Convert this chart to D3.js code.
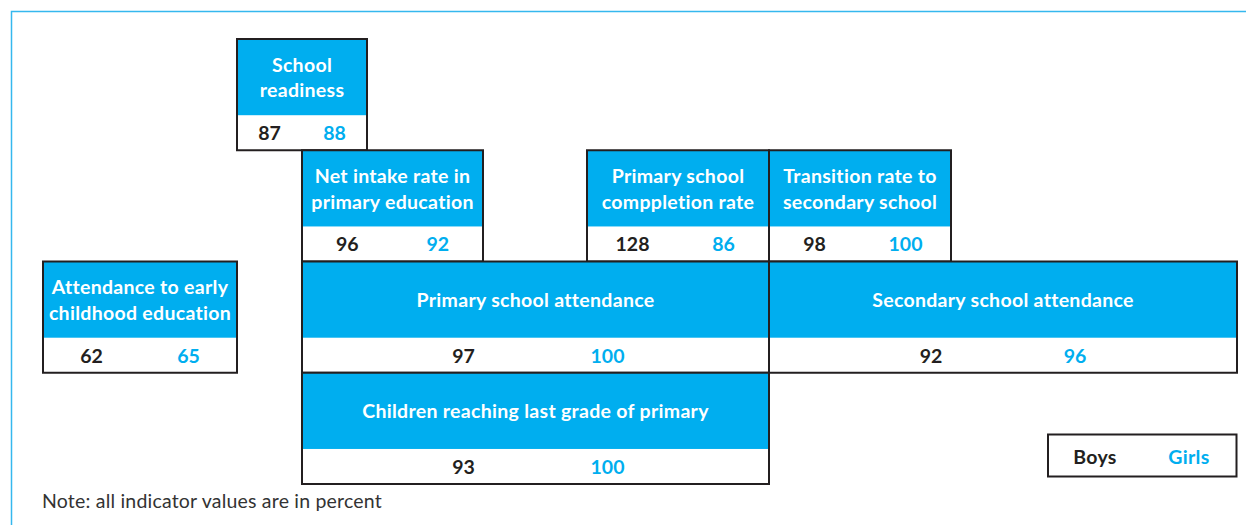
<!DOCTYPE html>
<html>
<head>
<meta charset="utf-8">
<script src="https://cdn.jsdelivr.net/npm/d3@7"></script>
<style>
  html, body { margin: 0; padding: 0; background: #ffffff; }
  svg { display: block; }
  text { font-family: Lato, "Open Sans", sans-serif; }
</style>
</head>
<body>
<svg id="chart" width="1246" height="525"></svg>
<script>
// ---- Data ----
const indicators = [
  "School readiness",
  "Net intake rate in primary education",
  "Primary school comppletion rate",
  "Transition rate to secondary school",
  "Attendance to early childhood education",
  "Primary school attendance",
  "Secondary school attendance",
  "Children reaching last grade of primary"
];
const labelLines = [
  ["School", "readiness"],
  ["Net intake rate in", "primary education"],
  ["Primary school", "comppletion rate"],
  ["Transition rate to", "secondary school"],
  ["Attendance to early", "childhood education"],
  ["Primary school attendance"],
  ["Secondary school attendance"],
  ["Children reaching last grade of primary"]
];
const boys  = [87, 96, 128, 98, 62, 97, 92, 93];
const girls = [88, 92, 86, 100, 65, 100, 96, 100];
const legendLabels = ["Boys", "Girls"];
const noteText = "Note: all indicator values are in percent";

// ---- Layout (grid structure, separate from data) ----
const colEdges = [43, 237, 302, 367, 483, 587, 769, 951, 1237];
const cells = [
  {c0: 1, c1: 3, row: 0},
  {c0: 2, c1: 4, row: 1},
  {c0: 5, c1: 6, row: 1},
  {c0: 6, c1: 7, row: 1},
  {c0: 0, c1: 1, row: 2},
  {c0: 2, c1: 6, row: 2},
  {c0: 6, c1: 8, row: 2},
  {c0: 2, c1: 6, row: 3}
];

const colors = { blue: "#00aeef", dark: "#231f20", frame: "#35b8ee" };
const FS = 19.5, LS = 0.3;

const svg = d3.select("#chart");
const x = d3.scaleOrdinal().domain(d3.range(colEdges.length)).range(colEdges);
const y = d3.scaleLinear().domain([0, 4]).range([39, 484]);
const headerFrac = 0.685;

// outer frame
svg.append("path")
  .attr("d", "M11.5,600 V11.5 H1300")
  .attr("fill", "none")
  .attr("stroke", colors.frame)
  .attr("stroke-width", 1.5);

const rows = indicators.map((name, i) => {
  const c = cells[i];
  const x0 = x(c.c0), x1 = x(c.c1);
  const y0 = y(c.row), y1 = y(c.row + 1);
  return { name, lines: labelLines[i], boys: boys[i], girls: girls[i], x0, x1, y0, y1, yh: y0 + (y1 - y0) * headerFrac };
});

const g = svg.selectAll("g.box").data(rows).join("g").attr("class", "box");

g.append("rect")
  .attr("x", d => d.x0).attr("y", d => d.y0)
  .attr("width", d => d.x1 - d.x0).attr("height", d => d.yh - d.y0)
  .attr("fill", colors.blue);

g.append("rect")
  .attr("x", d => d.x0).attr("y", d => d.y0)
  .attr("width", d => d.x1 - d.x0).attr("height", d => d.y1 - d.y0)
  .attr("fill", "none")
  .attr("stroke", colors.dark)
  .attr("stroke-width", 2);

g.each(function(d) {
  const sel = d3.select(this);
  const cx = (d.x0 + d.x1) / 2;
  const cy = (d.y0 + d.yh) / 2;
  const n = d.lines.length;
  const lh = 25.5;
  d.lines.forEach((ln, k) => {
    sel.append("text")
      .attr("x", cx)
      .attr("y", cy + 7.5 + (k - (n - 1) / 2) * lh)
      .attr("text-anchor", "middle")
      .attr("fill", "#ffffff")
      .attr("font-weight", 700)
      .attr("font-size", FS)
      .attr("letter-spacing", LS)
      .text(ln);
  });
  const w = d.x1 - d.x0;
  const off = Math.min(w / 4, 72);
  const vy = (d.yh + d.y1) / 2 + 7.5;
  sel.append("text")
    .attr("x", cx - off).attr("y", vy)
    .attr("text-anchor", "middle")
    .attr("fill", colors.dark)
    .attr("font-weight", 700).attr("font-size", FS)
    .text(d.boys);
  sel.append("text")
    .attr("x", cx + off).attr("y", vy)
    .attr("text-anchor", "middle")
    .attr("fill", colors.blue)
    .attr("font-weight", 700).attr("font-size", FS)
    .text(d.girls);
});

// legend
const lg = svg.append("g");
lg.append("rect")
  .attr("x", 1048).attr("y", 434.5)
  .attr("width", 188.5).attr("height", 42)
  .attr("fill", "#fff")
  .attr("stroke", colors.dark).attr("stroke-width", 2);
lg.selectAll("text").data(legendLabels).join("text")
  .attr("x", (d, i) => i === 0 ? 1095 : 1189)
  .attr("y", 464)
  .attr("text-anchor", "middle")
  .attr("font-weight", 700).attr("font-size", FS)
  .attr("letter-spacing", LS)
  .attr("fill", (d, i) => i === 0 ? colors.dark : colors.blue)
  .text(d => d);

// note
svg.append("text")
  .attr("x", 42).attr("y", 508)
  .attr("font-size", 19.5)
  .attr("letter-spacing", 0.2)
  .attr("fill", "#333")
  .text(noteText);
</script>
</body>
</html>
